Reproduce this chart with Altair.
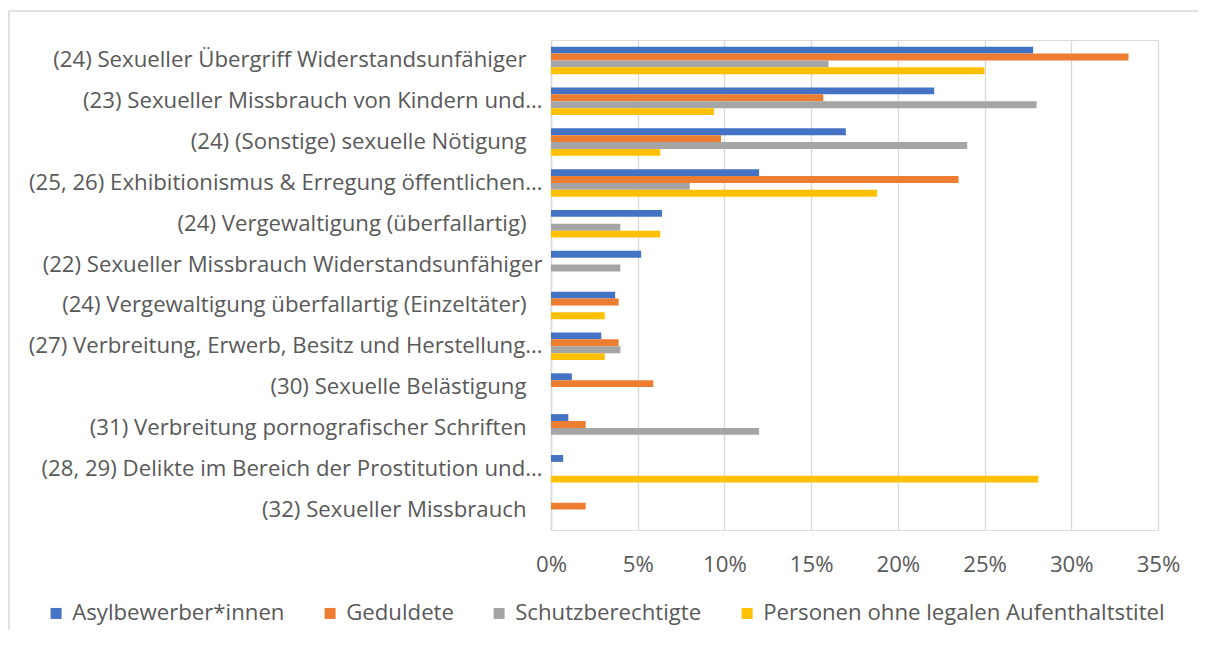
import altair as alt
import pandas as pd

categories = [
    "(24) Sexueller Übergriff Widerstandsunfähiger",
    "(23) Sexueller Missbrauch von Kindern und…",
    "(24) (Sonstige) sexuelle Nötigung",
    "(25, 26) Exhibitionismus & Erregung öffentlichen…",
    "(24) Vergewaltigung (überfallartig)",
    "(22) Sexueller Missbrauch Widerstandsunfähiger",
    "(24) Vergewaltigung überfallartig (Einzeltäter)",
    "(27) Verbreitung, Erwerb, Besitz und Herstellung…",
    "(30) Sexuelle Belästigung",
    "(31) Verbreitung pornografischer Schriften",
    "(28, 29) Delikte im Bereich der Prostitution und…",
    "(32) Sexueller Missbrauch",
]
series = ["Asylbewerber*innen", "Geduldete", "Schutzberechtigte",
          "Personen ohne legalen Aufenthaltstitel"]
colors = ["#4472C4", "#ED7D31", "#A5A5A5", "#FFC000"]

asyl = [27.8, 22.1, 17.0, 12.0, 6.4, 5.2, 3.7, 2.9, 1.2, 1.0, 0.7, 0.0]
geduldete = [33.3, 15.7, 9.8, 23.5, 0.0, 0.0, 3.9, 3.9, 5.9, 2.0, 0.0, 2.0]
schutz = [16.0, 28.0, 24.0, 8.0, 4.0, 4.0, 0.0, 4.0, 0.0, 12.0, 0.0, 0.0]
ohne = [25.0, 9.4, 6.3, 18.8, 6.3, 0.0, 3.1, 3.1, 0.0, 0.0, 28.1, 0.0]
ticks = [0, 5, 10, 15, 20, 25, 30, 35]

rows = []
for s, vals in zip(series, [asyl, geduldete, schutz, ohne]):
    for c, v in zip(categories, vals):
        rows.append({"Kategorie": c, "Gruppe": s, "Wert": v})
df = pd.DataFrame(rows)

FONT = "Open Sans"
FS = 22.2
TXT = "#595959"

long_label = "indexof(datum.label, '…') >= 0 || indexof(datum.label, '(22)') == 0"

bars = alt.Chart(df).mark_bar().encode(
    y=alt.Y("Kategorie:N", sort=categories,
            scale=alt.Scale(domain=categories, paddingInner=0.325, paddingOuter=0.1625),
            axis=alt.Axis(title=None, ticks=False, domain=True, domainColor="#d9d9d9",
                          domainWidth=1.5, labelFontSize=FS, labelColor=TXT,
                          labelFont=FONT,
                          labelPadding={"condition": {"test": long_label, "value": 9},
                                        "value": 25},
                          labelLimit=0)),
    yOffset=alt.YOffset("Gruppe:N", sort=series, scale=alt.Scale(domain=series)),
    x=alt.X("Wert:Q", scale=alt.Scale(domain=[0, 35], nice=False),
            axis=alt.Axis(title=None, values=ticks, labelExpr="datum.value + '%'",
                          ticks=False, domain=False, grid=True, gridColor="#d9d9d9",
                          gridWidth=1.3, labelFontSize=FS, labelColor=TXT,
                          labelFont=FONT, labelPadding=23, labelFlush=False)),
    color=alt.Color("Gruppe:N", sort=series,
                    scale=alt.Scale(domain=series, range=colors),
                    legend=alt.Legend(title=None, orient="none", legendX=-506, legendY=562,
                                      direction="horizontal", columns=4,
                                      symbolType="square", symbolSize=121,
                                      symbolStrokeWidth=0, labelFontSize=FS,
                                      labelColor=TXT, labelFont=FONT, labelOffset=5,
                                      columnPadding=34, labelLimit=0)),
)

border = alt.Chart(pd.DataFrame({"a": [0]})).mark_rect(
    filled=False, stroke="#d9d9d9", strokeWidth=1.5
).encode(
    x=alt.value(-542), x2=alt.value(700), y=alt.value(-29), y2=alt.value(700)
)

chart = alt.layer(border, bars).properties(
    width=607, height=490,
    autosize=alt.AutoSizeParams(type="none"),
    padding={"left": 543, "top": 32, "right": 40, "bottom": 100},
).configure_view(stroke=None).configure(background="white")

chart.save("out.html", embed_options={"renderer": "svg", "actions": False})
